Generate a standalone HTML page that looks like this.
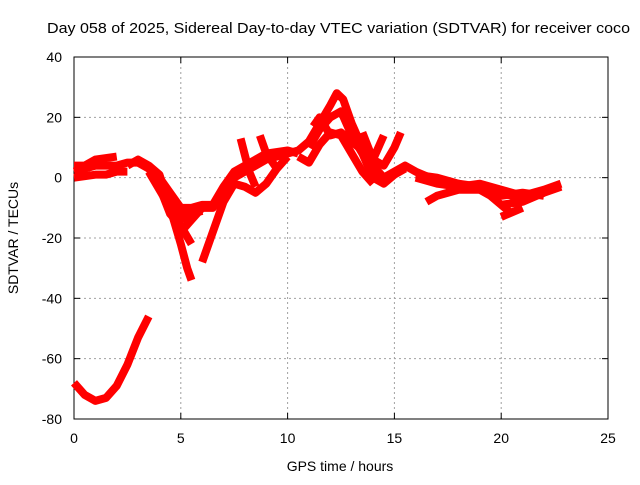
<!DOCTYPE html>
<html><head><meta charset="utf-8"><style>
body{margin:0;background:#fff;}
svg text{font-family:"Liberation Sans",sans-serif;font-size:14px;fill:#000;}
</style></head><body>
<svg id="chart" width="640" height="480" xmlns="http://www.w3.org/2000/svg">
<g id="grid"></g><g id="axes"></g><g id="series" fill="none" stroke="#ff0000" stroke-width="8" stroke-linejoin="round" stroke-linecap="butt"></g>
<text x="47" y="33" textLength="583" lengthAdjust="spacingAndGlyphs" style="font-size:15px">Day 058 of 2025, Sidereal Day-to-day VTEC variation (SDTVAR) for receiver coco</text>
<text x="340" y="471" text-anchor="middle">GPS time / hours</text>
<text transform="translate(18,238) rotate(-90)" text-anchor="middle">SDTVAR / TECUs</text>
</svg>
<script>
const xTicks=[0,5,10,15,20,25];
const yTicks=[40,20,0,-20,-40,-60,-80];
const seriesA=[[0,-68],[0.5,-72],[1,-74],[1.5,-73],[2,-69],[2.5,-62],[3,-53],[3.5,-46]];
const seriesB=[[0,2],[0.5,3],[1,4],[1.5,4],[2,4],[2.5,5],[3,5],[3.5,3],[4,-2],[4.5,-8],[5,-12],[5.5,-11],[6,-10],[6.5,-10],[7,-5],[7.5,0],[8,2],[8.5,4],[9,6],[9.5,7],[10,8],[10.5,9],[11,12],[11.5,18],[12,24],[12.3,28],[12.6,26],[13,18],[13.5,10],[14,4],[14.5,0],[15,2],[15.5,4],[16,2],[17,-1],[18,-2],[19,-3],[20,-5],[21,-7],[22,-5],[22.8,-3]];
const seriesB2=[[2.5,4],[3,6],[3.5,4],[4,0],[4.5,-5],[5,-10],[5.5,-10],[6,-9],[6.5,-9],[7,-3],[7.5,2],[8,4],[8.5,6],[9,8],[10,9],[10.5,8]];
const seriesB2b=[[16,0],[17,-2],[18,-3],[19,-2],[20,-4],[21,-6],[22,-4],[22.8,-2]];
const seriesB3=[[3.5,2],[4,-4],[4.5,-10],[5,-14],[5.5,-12],[6,-11]];
const seriesB3b=[[16,1],[17,0],[18,-2],[19,-4],[20,-6],[21,-5],[22,-6]];
const seriesC=[[3.5,4],[4,1],[4.5,-10],[5,-22],[5.3,-30],[5.5,-34]];
const seriesD=[[4,-3],[4.5,-12],[5,-16],[5.5,-22]];
const seriesE=[[5,-18],[5.5,-14],[6,-10]];
const seriesF=[[6,-28],[6.5,-18],[7,-8],[7.5,-2],[8,-3],[8.5,-5],[9,-2],[9.5,3],[10,7]];
const seriesG=[[0,4],[0.5,4],[1,6],[2,7]];
const seriesH=[[0,0],[1,1],[1.5,1],[2,2],[2.5,2]];
const seriesI=[[7.8,13],[8.2,2],[8.5,-3]];
const seriesJ=[[8.7,14],[9,8],[9.5,3]];
const seriesK=[[11,10],[11.5,16],[12,20],[12.5,22],[13,14],[13.5,8],[14,0],[14.5,-2],[15,1],[15.5,3]];
const seriesL=[[11.2,17],[11.5,20],[12,14],[12.5,15],[13,12],[14,6],[14.5,4],[15,10],[15.3,15]];
const seriesM=[[10.5,7],[11,5],[11.5,11],[12,15],[12.5,14],[13,8],[13.5,2],[14,-2]];
const seriesN=[[13.5,15],[14,6],[14.5,14]];
const seriesO=[[16.5,-8],[17,-6],[18,-4],[19,-4],[19.5,-6],[20,-9],[20.5,-12]];
const seriesP=[[20,-9],[21,-8],[22,-5]];
const seriesQ=[[20,-13],[21,-10]];
const allSeries=[seriesA,seriesB,seriesB2,seriesB2b,seriesB3,seriesB3b,seriesC,seriesD,seriesE,seriesF,seriesG,seriesH,seriesI,seriesJ,seriesK,seriesL,seriesM,seriesN,seriesO,seriesP,seriesQ];
const L=74,R=608,T=57,B=419;
function X(h){return L+(h-0)/25*(R-L);}
function Y(v){return T+(40-v)/120*(B-T);}
const ns="http://www.w3.org/2000/svg";
const grid=document.getElementById('grid'),axes=document.getElementById('axes'),ser=document.getElementById('series');
function mk(tag,at,p){const e=document.createElementNS(ns,tag);for(const k in at)e.setAttribute(k,at[k]);p.appendChild(e);return e;}
xTicks.forEach(t=>{
 if(t>0&&t<25){const g=mk('line',{x1:X(t),x2:X(t),y1:T,y2:B,stroke:'#a0a0a0','stroke-dasharray':'2,3'},grid);
 
 }
 mk('line',{x1:X(t),x2:X(t),y1:B,y2:B-6,stroke:'#000'},axes);
 mk('line',{x1:X(t),x2:X(t),y1:T,y2:T+6,stroke:'#000'},axes);
 const tx=mk('text',{x:X(t),y:B+24,'text-anchor':'middle'},axes);tx.textContent=t;
 
 
});
yTicks.forEach(t=>{
 if(t<40&&t>-80){const g=mk('line',{x1:L,x2:R,y1:Y(t),y2:Y(t),stroke:'#a0a0a0','stroke-dasharray':'2,3'},grid);
 
 }
 mk('line',{x1:L,x2:L+6,y1:Y(t),y2:Y(t),stroke:'#000'},axes);
 mk('line',{x1:R,x2:R-6,y1:Y(t),y2:Y(t),stroke:'#000'},axes);
 const tx=mk('text',{x:L-12,y:Y(t)+5,'text-anchor':'end'},axes);tx.textContent=t;
 
 
});
const frame=mk('rect',{x:L,y:T,width:R-L,height:B-T,fill:'none',stroke:'#000'},axes);


allSeries.forEach(s=>{
 const p=mk('polyline',{points:s.map(d=>X(d[0])+','+Y(d[1])).join(' ')},ser);
 
 
});
</script>
</body></html>
